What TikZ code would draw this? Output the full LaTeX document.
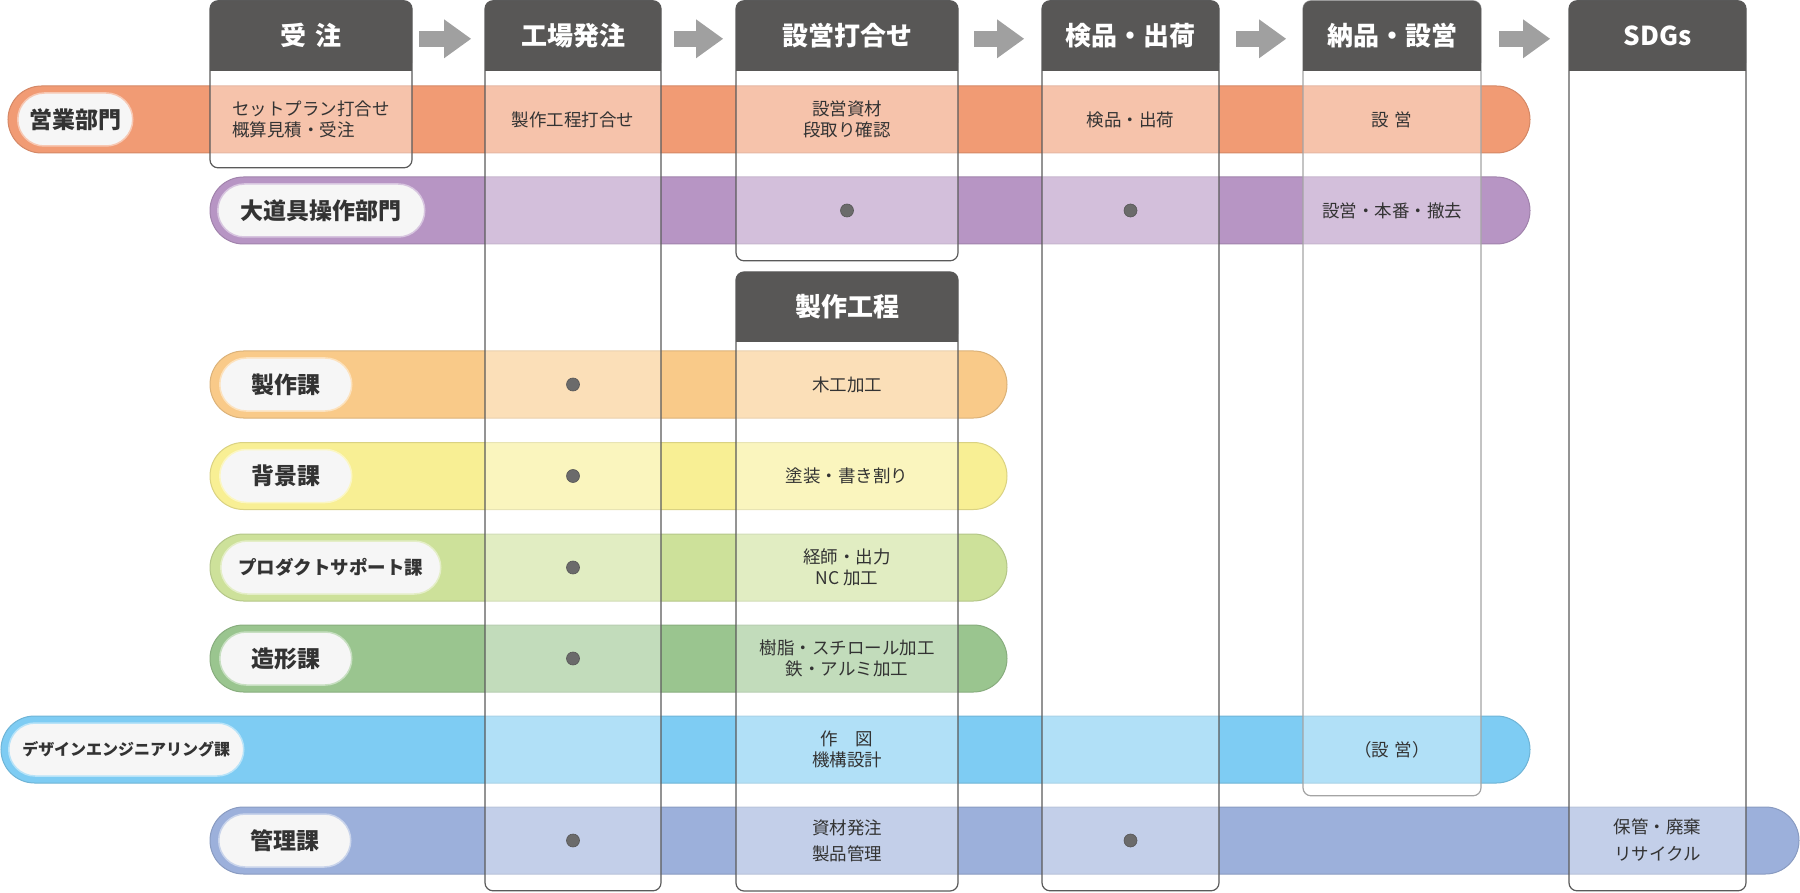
\documentclass[tikz,border=0pt]{standalone}
\usepackage{fontspec}
\setmainfont{Noto Sans CJK JP}
\usetikzlibrary{arrows.meta}

\definecolor{ink}{HTML}{333333}
\definecolor{frame}{HTML}{5A5A5A}
\definecolor{headgray}{HTML}{585756}
\definecolor{arrowgray}{HTML}{A0A0A0}
\definecolor{dotgray}{HTML}{6B6B6B}
\definecolor{tagwhite}{HTML}{F6F6F6}
\definecolor{eigyo}{HTML}{F19B74}
\definecolor{odogu}{HTML}{B795C4}
\definecolor{seisaku}{HTML}{F9CA89}
\definecolor{haikei}{HTML}{F8EF94}
\definecolor{product}{HTML}{CDE19A}
\definecolor{zokei}{HTML}{9AC58F}
\definecolor{design}{HTML}{7ECCF3}
\definecolor{kanri}{HTML}{9CB0DB}

\begin{document}
\begin{tikzpicture}[x=1pt, y=-1pt,
    department/.style ={fill=#1, draw=#1!88!black, line width=1, rounded corners=33.5,
      minimum height=67, inner sep=0, outer sep=0, anchor=west},
    tag/.style ={fill=tagwhite, draw=#1!55!white, line width=1.5, rounded corners=26.5,
      minimum height=53, inner sep=0, anchor=west, text=ink,
      font=\fontsize{23}{23}\selectfont\bfseries},
    phase/.style ={draw=frame, line width=1.2, rounded corners=8, fill=white, fill opacity=.4,
      inner sep=0, outer sep=0, anchor=north west},
    head/.style ={fill=headgray, rounded corners=8, minimum height=70, inner sep=0, outer sep=0,
      anchor=north west, text=white, font=\fontsize{26}{26}\selectfont\bfseries},
    task/.style ={text=ink, align=center, font=\fontsize{17.5}{21}\selectfont},
    marker/.style ={circle, fill=dotgray, draw=dotgray!80!black, line width=.6, minimum size=13, inner sep=0},
    flow/.style ={-{Triangle[length=27pt,width=39pt,line width=0pt]}, line width=16, draw=arrowgray}]
   \useasboundingbox (0,0) rectangle (1800,893);

   % departments
   \node[department=eigyo]   (D1) at (8,119.5)  [minimum width=1522] {};
   \node[department=odogu]   (D2) at (210,210.5) [minimum width=1320] {};
   \node[department=seisaku] (D3) at (210,384.5) [minimum width=797] {};
   \node[department=haikei]  (D4) at (210,476)   [minimum width=797] {};
   \node[department=product] (D5) at (210,567.5) [minimum width=797] {};
   \node[department=zokei]   (D6) at (210,658.5) [minimum width=797] {};
   \node[department=design]  (D7) at (1,749.5)   [minimum width=1529] {};
   \node[department=kanri]   (D8) at (210,840.5) [minimum width=1589] {};

   \node[tag=eigyo]   (L1) at ([xshift=9]D1.west)  [minimum width=115] {営業部門};
   \node[tag=odogu]   (L2) at ([xshift=7]D2.west)  [minimum width=207] {大道具操作部門};
   \node[tag=seisaku] (L3) at ([xshift=9]D3.west)  [minimum width=132] {製作課};
   \node[tag=haikei]  (L4) at ([xshift=9]D4.west)  [minimum width=132] {背景課};
   \node[tag=product] (L5) at ([xshift=10]D5.west) [minimum width=220, font=\fontsize{18.5}{18.5}\selectfont\bfseries] {プロダクトサポート課};
   \node[tag=zokei]   (L6) at ([xshift=9]D6.west)  [minimum width=132] {造形課};
   \node[tag=design]  (L7) at ([xshift=7]D7.west)  [minimum width=235, font=\fontsize{16}{16}\selectfont\bfseries] {デザインエンジニアリング課};
   \node[tag=kanri]   (L8) at ([xshift=8]D8.west)  [minimum width=132] {管理課};

   % phases
   \node[phase] (P1) at (210,0.8)  [minimum width=202, minimum height=167] {};
   \node[phase] (P2) at (485,0.8)  [minimum width=176, minimum height=890] {};
   \node[phase] (P3) at (736,0.8)  [minimum width=222, minimum height=260] {};
   \node[phase] (P4) at (736,272)  [minimum width=222, minimum height=619] {};
   \node[phase] (P5) at (1042,0.8) [minimum width=177, minimum height=890] {};
   \node[phase, draw=frame!55] (P6) at (1303,0.8) [minimum width=178, minimum height=795] {};
   \node[phase] (P7) at (1569,0.8) [minimum width=177, minimum height=890] {};

   \foreach \p in {P1,P2,P3,P4,P5,P6,P7}
     \fill[headgray] ([yshift=-35]\p.north west) rectangle ([yshift=-70]\p.north east);
   \node[head] (H1) at (P1.north west) [minimum width=202] {受\hspace{.35em}注};
   \node[head] (H2) at (P2.north west) [minimum width=176] {工場発注};
   \node[head] (H3) at (P3.north west) [minimum width=222] {設営打合せ};
   \node[head] (H4) at (P4.north west) [minimum width=222] {製作工程};
   \node[head] (H5) at (P5.north west) [minimum width=177] {検品・出荷};
   \node[head] (H6) at (P6.north west) [minimum width=178] {納品・設営};
   \node[head] (H7) at (P7.north west) [minimum width=177] {SDGs};

   \draw[flow, shorten <=7pt,  shorten >=14pt] ([yshift=-3]H1.east) -- ([yshift=-3]H2.west);
   \draw[flow, shorten <=13pt, shorten >=13pt] ([yshift=-3]H2.east) -- ([yshift=-3]H3.west);
   \draw[flow, shorten <=16pt, shorten >=18pt] ([yshift=-3]H3.east) -- ([yshift=-3]H5.west);
   \draw[flow, shorten <=17pt, shorten >=17pt] ([yshift=-3]H5.east) -- ([yshift=-3]H6.west);
   \draw[flow, shorten <=18pt, shorten >=19pt] ([yshift=-3]H6.east) -- ([yshift=-3]H7.west);

   % tasks
   \node[task, align=left] (T11) at (P1 |- D1) {セットプラン打合せ\\概算見積・受注};
   \node[task] (T12) at (P2 |- D1) {製作工程打合せ};
   \node[task] (T13) at (P3 |- D1) {設営資材\\段取り確認};
   \node[task] (T15) at (P5 |- D1) {検品・出荷};
   \node[task] (T16) at (P6 |- D1) {設\hspace{.3em}営};

   \node[marker] (M23) at (P3 |- D2) {};
   \node[marker] (M25) at (P5 |- D2) {};
   \node[task] (T26) at (P6 |- D2) {設営・本番・撤去};

   \node[marker] (M32) at (P2 |- D3) {};
   \node[task] (T34) at (P4 |- D3) {木工加工};
   \node[marker] (M42) at (P2 |- D4) {};
   \node[task] (T44) at (P4 |- D4) {塗装・書き割り};
   \node[marker] (M52) at (P2 |- D5) {};
   \node[task] (T54) at (P4 |- D5) {経師・出力\\NC 加工};
   \node[marker] (M62) at (P2 |- D6) {};
   \node[task] (T64) at (P4 |- D6) {樹脂・スチロール加工\\鉄・アルミ加工};

   \node[task] (T74) at (P4 |- D7) {作　図\\機構設計};
   \node[task] (T76) at (P6 |- D7) {（設\hspace{.3em}営）};

   \node[marker] (M82) at (P2 |- D8) {};
   \node[task, font=\fontsize{17.5}{26}\selectfont] (T84) at (P4 |- D8) {資材発注\\製品管理};
   \node[marker] (M85) at (P5 |- D8) {};
   \node[task, font=\fontsize{17.5}{27}\selectfont] (T87) at (P7 |- D8) {保管・廃棄\\リサイクル};
 \end{tikzpicture}
\end{document}
